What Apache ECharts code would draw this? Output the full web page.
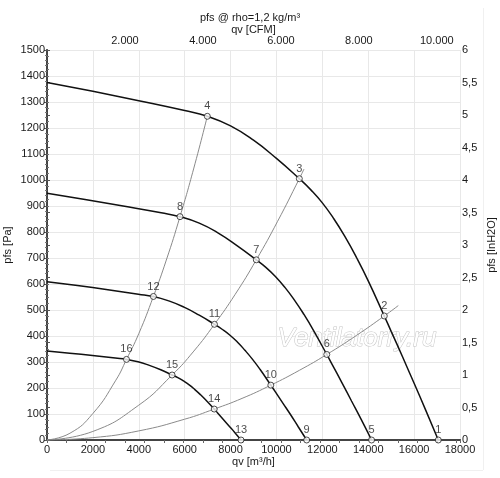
<!DOCTYPE html>
<html>
<head>
<meta charset="utf-8">
<script src="https://cdn.jsdelivr.net/npm/echarts@6/dist/echarts.min.js"></script>
<style>
  html, body { margin: 0; padding: 0; background: #fff; }
  #chart { width: 500px; height: 478px; }
</style>
</head>
<body>
<div id="chart"></div>
<script>
// fan curves, [qv m3/h, pfs Pa]
const fanCurve1 = [[0, 1375], [2000, 1341], [4000, 1305], [6000, 1267], [6987, 1245], [8000, 1208],
  [9000, 1153], [10000, 1083], [10997, 1005], [11500, 962], [12000, 912], [12500, 851],
  [13000, 780], [13500, 700], [14000, 612], [14700, 477], [15000, 418], [15500, 319],
  [16000, 218], [16500, 116], [17054, 0]]
const fanCurve2 = [[0, 949], [1659, 925], [3318, 900], [4977, 874], [5796, 859], [6636, 834],
  [7466, 796], [8295, 747], [9122, 693], [9539, 664], [9954, 629], [10369, 587],
  [10784, 538], [11198, 483], [11613, 422], [12194, 329], [12443, 288], [12857, 220],
  [13272, 150], [13687, 80], [14146, 0]]
const fanCurve3 = [[0, 609], [1327, 594], [2654, 578], [3982, 561], [4637, 552], [5309, 535],
  [5972, 511], [6636, 480], [7298, 445], [7631, 426], [7963, 404], [8295, 377],
  [8627, 345], [8959, 310], [9290, 271], [9755, 211], [9954, 185], [10286, 141],
  [10618, 97], [10949, 51], [11317, 0]]
const fanCurve4 = [[0, 342], [992, 334], [1983, 325], [2975, 315], [3464, 310], [3966, 301],
  [4462, 287], [4958, 270], [5452, 250], [5702, 240], [5950, 227], [6197, 212],
  [6445, 194], [6693, 174], [6941, 152], [7288, 119], [7437, 104], [7685, 79],
  [7933, 54], [8181, 29], [8455, 0]]

// system curves (grey), through the origin
const sysCurveA = [[0, 0], [1000, 26], [2000, 102], [3000, 230], [3464, 310], [4000, 409],
  [4637, 552], [5200, 692], [5796, 859], [6400, 1046], [6987, 1245]]
const sysCurveB = [[0, 0], [2000, 33], [4000, 134], [5452, 250], [6400, 342], [7298, 445],
  [8200, 560], [9122, 693], [10050, 841], [10997, 1005], [11200, 1042]]
const sysCurveC = [[0, 0], [2000, 9], [4000, 35], [6000, 80], [7288, 119], [8500, 160],
  [9755, 211], [11000, 268], [12194, 329], [13500, 403], [14700, 477], [15311, 517]]

// numbered operating points
const pointNames = ['1', '2', '3', '4', '5', '6', '7', '8', '9', '10', '11', '12', '13', '14', '15', '16']
const pointQ = [17054, 14700, 10997, 6987, 14146, 12194, 9122, 5796, 11317, 9755, 7298, 4637, 8455, 7288, 5452, 3464]
const pointP = [0, 477, 1005, 1245, 0, 329, 693, 859, 0, 211, 445, 552, 0, 119, 250, 310]

const qvMax = 18000
const cfmMax = 18000 / 1.699
const inH2OMax = 6

const font = 'Liberation Sans'
const labelColor = '#1a1a1a'
const axisColor = '#444'

const chart = echarts.init(document.getElementById('chart'))

function fanSeries (data) {
  return {
    type: 'line', data: data, xAxisIndex: 0, yAxisIndex: 0,
    showSymbol: false, smooth: 0.5, z: 3, silent: true,
    lineStyle: {color: '#111', width: 1.5},
  }
}

function sysSeries (data) {
  return {
    type: 'line', data: data, xAxisIndex: 0, yAxisIndex: 0,
    showSymbol: false, smooth: 0.5, z: 2, silent: true,
    lineStyle: {color: '#8a8a8a', width: 1},
  }
}

const points = pointNames.map((n, i) => ({name: n, value: [pointQ[i], pointP[i]]}))

chart.setOption({
  animation: false,
  textStyle: {fontFamily: font},
  title: {
    text: 'pfs @ rho=1,2 kg/m³',
    left: 'center', top: 7,
    textStyle: {fontSize: 11, fontWeight: 'normal', color: labelColor, fontFamily: font},
  },
  grid: {left: 47, right: 40, top: 50, bottom: 38, containLabel: false, outerBoundsMode: 'none'},
  xAxis: [
    {
      type: 'value', position: 'bottom', min: 0, max: qvMax, interval: 2000,
      name: 'qv [m³/h]', nameLocation: 'middle', nameGap: 16, nameMoveOverlap: false,
      nameTextStyle: {fontSize: 11, color: labelColor},
      axisLine: {lineStyle: {color: axisColor, width: 2}},
      axisTick: {show: false},
      axisLabel: {fontSize: 11, color: labelColor, margin: 4, formatter: v => String(v)},
      splitLine: {show: true, lineStyle: {color: '#e8e8e8', width: 1}},
    },
    {
      type: 'value', position: 'top', min: 0, max: cfmMax, interval: 500,
      name: 'qv [CFM]', nameLocation: 'middle', nameGap: 15, nameMoveOverlap: false,
      nameTextStyle: {fontSize: 11, color: labelColor},
      axisLine: {show: true, lineStyle: {color: axisColor, width: 1.5}},
      axisTick: {show: true, inside: true, length: 3, lineStyle: {color: '#666'}},
      axisLabel: {
        fontSize: 11, color: labelColor, margin: 4,
        formatter: v => (v > 0 && v % 2000 === 0) ? (v / 1000) + '.000' : '',
      },
      splitLine: {show: false},
    },
  ],
  yAxis: [
    {
      type: 'value', position: 'left', min: 0, max: 1500, interval: 100,
      name: 'pfs [Pa]', nameLocation: 'middle', nameGap: 34, nameRotate: 90, nameMoveOverlap: false,
      nameTextStyle: {fontSize: 11, color: labelColor},
      axisLine: {show: true, lineStyle: {color: axisColor, width: 2}},
      axisTick: {show: true, length: 3, lineStyle: {color: '#555'}},
      minorTick: {show: true, splitNumber: 5, length: 2, lineStyle: {color: '#777'}},
      axisLabel: {fontSize: 11, color: labelColor, margin: 2, formatter: v => String(v)},
      splitLine: {show: true, lineStyle: {color: '#e8e8e8', width: 1}},
    },
    {
      type: 'value', position: 'right', min: 0, max: inH2OMax, interval: 0.5,
      name: 'pfs [InH2O]', nameLocation: 'middle', nameGap: 26, nameRotate: 90, nameMoveOverlap: false,
      nameTextStyle: {fontSize: 11, color: labelColor},
      axisLine: {show: true, lineStyle: {color: axisColor, width: 1.5}},
      axisTick: {show: true, length: 3, lineStyle: {color: '#555'}},
      minorTick: {show: true, splitNumber: 5, length: 2, lineStyle: {color: '#777'}},
      axisLabel: {fontSize: 11, color: labelColor, margin: 2, formatter: v => String(v).replace('.', ',')},
      splitLine: {show: false},
    },
  ],
  graphic: [
    {
      type: 'text', left: 277, top: 325, z: 1, silent: true,
      style: {
        text: 'Ventilatorry.ru', fontSize: 26, fontStyle: 'italic', fontFamily: font,
        fill: '#ffffff', stroke: '#c4c4c4', lineWidth: 1,
        shadowColor: 'rgba(0,0,0,0.2)', shadowBlur: 2, shadowOffsetX: 1, shadowOffsetY: 1,
      },
    },
    {
      type: 'line', silent: true, z: 0,
      shape: {x1: 50, y1: 470.5, x2: 483, y2: 470.5},
      style: {stroke: '#f0f0f0', lineWidth: 1},
    },
    {
      type: 'line', silent: true, z: 0,
      shape: {x1: 483.5, y1: 8, x2: 483.5, y2: 470},
      style: {stroke: '#f0f0f0', lineWidth: 1},
    },
  ],
  series: [
    sysSeries(sysCurveA),
    sysSeries(sysCurveB),
    sysSeries(sysCurveC),
    fanSeries(fanCurve1),
    fanSeries(fanCurve2),
    fanSeries(fanCurve3),
    fanSeries(fanCurve4),
    {
      type: 'scatter', data: points, xAxisIndex: 0, yAxisIndex: 0,
      symbol: 'circle', symbolSize: 6, z: 5, silent: true,
      itemStyle: {color: '#fff', borderColor: '#222', borderWidth: 1},
      label: {
        show: true, position: 'top', distance: 1,
        formatter: p => p.name, fontSize: 11, color: labelColor, fontFamily: font,
      },
    },
  ],
})
</script>
</body>
</html>
